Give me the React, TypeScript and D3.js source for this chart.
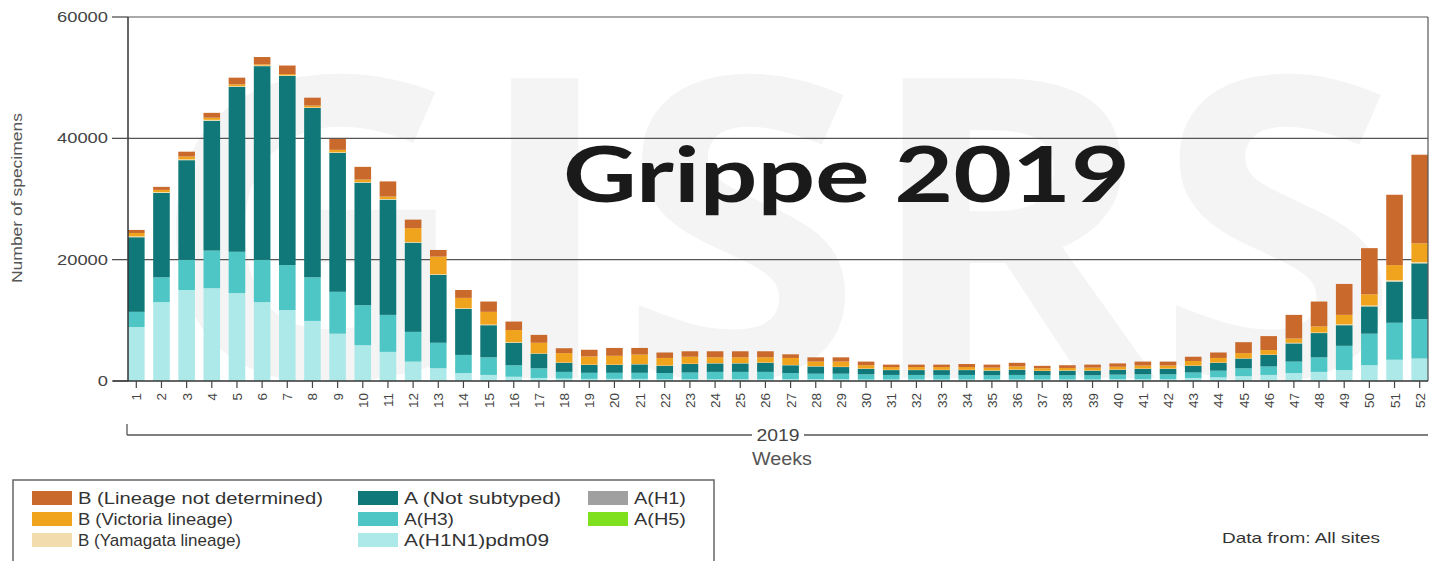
import React from "react";
import * as d3 from "d3";

const weeks = d3.range(1, 53).map(String);

const h1n1 = [8900,13000,15000,15300,14500,13000,11700,9900,7800,5900,
  4800,3200,2100,1300,1000,700,500,400,350,350,
  350,300,300,300,300,300,300,300,300,250,
  250,250,250,250,250,250,250,250,250,300,
  300,300,500,600,800,1000,1300,1500,1800,2600,
  3500,3700];
const h3 = [2500,4100,5000,6200,6800,7000,7400,7200,6900,6600,
  6100,4900,4200,3000,2900,1900,1600,1100,1000,1000,
  1000,1000,1100,1200,1200,1200,1000,900,900,850,
  750,750,750,750,700,750,700,700,700,750,
  800,800,900,1100,1300,1400,1900,2400,4000,5200,
  6100,6500];
const notSubtyped = [12300,13900,16400,21400,27200,31900,31200,27900,22900,20200,
  19000,14700,11200,7600,5300,3700,2400,1500,1300,1300,
  1400,1200,1400,1400,1400,1500,1300,1200,1100,900,
  800,800,800,800,750,850,700,750,750,800,
  900,900,1100,1300,1600,1900,3000,4000,3400,4500,
  6800,9200];
const h1 = weeks.map(() => 0);
const h5 = weeks.map(() => 0);
const yamagata = [150,150,150,150,100,100,100,100,100,100,
  100,100,100,100,100,100,50,50,50,50,
  50,50,50,50,50,50,50,50,50,50,
  50,50,50,50,50,50,50,50,50,50,
  50,50,50,50,50,50,100,100,150,150,
  200,200];
const victoria = [550,350,450,350,300,200,200,300,400,400,
  400,2300,2900,1700,2100,2000,1750,1550,1350,1450,
  1550,1250,1150,950,950,850,1150,750,850,550,
  450,450,450,450,450,500,400,400,450,450,
  500,500,750,750,850,750,700,1000,1550,1850,
  2500,3100];
const notDetermined = [500,500,800,800,1100,1200,1400,1300,1800,2100,
  2500,1400,1100,1300,1700,1400,1300,800,1100,1300,
  1100,900,900,1000,1000,1000,600,700,700,600,
  400,400,400,500,500,600,400,450,500,550,
  650,650,700,900,1800,2300,3900,4100,5100,7600,
  11600,14600];

const yTicks = [0, 20000, 40000, 60000];

const seriesKeys = ["h1n1", "h3", "ns", "h1", "h5", "yam", "vic", "lnd"];
const seriesColors: Record<string, string> = {
  h1n1: "#aee9e9",
  h3: "#4fc6c6",
  ns: "#107878",
  h1: "#a0a0a0",
  h5: "#7fe01e",
  yam: "#f2dcae",
  vic: "#f0a31c",
  lnd: "#c96a2c",
};

const legendItems = [
  { key: "lnd", label: "B (Lineage not determined)", col: 0, row: 0 },
  { key: "vic", label: "B (Victoria lineage)", col: 0, row: 1 },
  { key: "yam", label: "B (Yamagata lineage)", col: 0, row: 2 },
  { key: "ns", label: "A (Not subtyped)", col: 1, row: 0 },
  { key: "h3", label: "A(H3)", col: 1, row: 1 },
  { key: "h1n1", label: "A(H1N1)pdm09", col: 1, row: 2 },
  { key: "h1", label: "A(H1)", col: 2, row: 0 },
  { key: "h5", label: "A(H5)", col: 2, row: 1 },
];
const legendLens: Record<string, number> = {
  lnd: 245, vic: 155, yam: 163, ns: 157, h3: 50, h1n1: 145, h1: 52, h5: 52,
};

export default function App() {
  const W = 1439, H = 561;
  const left = 128, right = 1428, top = 17, bottom = 381;
  const x = d3.scaleBand<string>().domain(weeks).range([left, right]).paddingInner(0.34).paddingOuter(0);
  const y = d3.scaleLinear().domain([0, 60000]).range([bottom, top]);

  const rows = weeks.map((w, i) => ({
    week: w,
    h1n1: h1n1[i], h3: h3[i], ns: notSubtyped[i], h1: h1[i], h5: h5[i],
    yam: yamagata[i], vic: victoria[i], lnd: notDetermined[i],
  }));
  const stacked = d3.stack<any>().keys(seriesKeys)(rows);

  const font = "'Liberation Sans', Arial, sans-serif";
  const colX = [32, 358, 588];
  const rowY = [498, 519, 540];

  return (
    <svg width={W} height={H} style={{ position: "absolute", left: 0, top: 0, background: "#fff" }}>
      <rect x={0} y={0} width={W} height={H} fill="#fff" />
      {/* watermark */}
      <text x={150} y={378} fontFamily="'Open Sans', sans-serif" fontWeight={700} fontSize={420}
        fill="#f4f4f4" textLength={1250} lengthAdjust="spacingAndGlyphs">GISRS</text>

      {/* gridlines */}
      {yTicks.filter(t => t > 0).map(t => (
        <line key={t} x1={left} x2={right} y1={y(t)} y2={y(t)} stroke="#555" strokeWidth={1.2} />
      ))}

      {/* bars */}
      {stacked.map(s => (
        <g key={s.key} fill={seriesColors[s.key]}>
          {s.map((d, i) => (
            d[1] - d[0] > 0 ? (
              <rect key={i} x={x(weeks[i])} width={x.bandwidth()} y={y(d[1])} height={y(d[0]) - y(d[1])} />
            ) : null
          ))}
        </g>
      ))}

      {/* frame */}
      <line x1={left} x2={left} y1={top} y2={bottom} stroke="#333" strokeWidth={1.5} />
      <line x1={right} x2={right} y1={top} y2={bottom} stroke="#555" strokeWidth={1.2} />
      <line x1={113} x2={right} y1={bottom} y2={bottom} stroke="#333" strokeWidth={1.5} />

      {/* y ticks */}
      {yTicks.map(t => (
        <g key={t}>
          <line x1={112} x2={left} y1={y(t)} y2={y(t)} stroke="#444" strokeWidth={1.2} />
          <text x={108} y={y(t)} dy="0.35em" textAnchor="end" fontFamily={font} fontSize={14}
            fill="#444" textLength={String(t).length * 10.2} lengthAdjust="spacingAndGlyphs">{t}</text>
        </g>
      ))}
      <text transform={`translate(22,198) rotate(-90)`} textAnchor="middle" fontFamily={font}
        fontSize={15} fill="#555" textLength={170} lengthAdjust="spacingAndGlyphs">Number of specimens</text>

      {/* x ticks */}
      {weeks.map(w => {
        const cx = (x(w) as number) + x.bandwidth() / 2;
        return (
          <g key={w}>
            <line x1={cx} x2={cx} y1={bottom} y2={bottom + 7} stroke="#444" strokeWidth={1.2} />
            <text transform={`translate(${cx + 5},${bottom + 12}) rotate(-90)`} textAnchor="end"
              fontFamily={font} fontSize={13.5} fill="#444">{w}</text>
          </g>
        );
      })}

      {/* year bracket */}
      <line x1={left - 1} x2={left - 1} y1={424} y2={435} stroke="#555" strokeWidth={1.3} />
      <line x1={left - 1} x2={752} y1={435} y2={435} stroke="#555" strokeWidth={1.3} />
      <line x1={804} x2={right} y1={435} y2={435} stroke="#555" strokeWidth={1.3} />
      <text x={778} y={435} dy="0.36em" textAnchor="middle" fontFamily={font} fontSize={16} fill="#444"
        textLength={43} lengthAdjust="spacingAndGlyphs">2019</text>
      <text x={782} y={465} textAnchor="middle" fontFamily={font} fontSize={18} fill="#555"
        textLength={60} lengthAdjust="spacingAndGlyphs">Weeks</text>

      {/* title */}
      <text x={563} y={202} fontFamily="Lato, 'Open Sans', sans-serif" fontWeight={700} fontSize={77}
        fill="#1a1a1a" textLength={567} lengthAdjust="spacingAndGlyphs">Grippe 2019</text>

      {/* legend */}
      <rect x={13} y={480} width={701} height={100} fill="#fff" stroke="#666" strokeWidth={1.5} />
      {legendItems.map(it => (
        <g key={it.key}>
          <rect x={colX[it.col]} y={rowY[it.row] - 7} width={40} height={14} fill={seriesColors[it.key]} />
          <text x={colX[it.col] + 46} y={rowY[it.row]} dy="0.36em" fontFamily={font} fontSize={17}
            fill="#333" textLength={legendLens[it.key]} lengthAdjust="spacingAndGlyphs">{it.label}</text>
        </g>
      ))}
      <text x={1222} y={538} dy="0.36em" fontFamily={font} fontSize={15} fill="#333"
        textLength={158} lengthAdjust="spacingAndGlyphs">Data from: All sites</text>
    </svg>
  );
}
